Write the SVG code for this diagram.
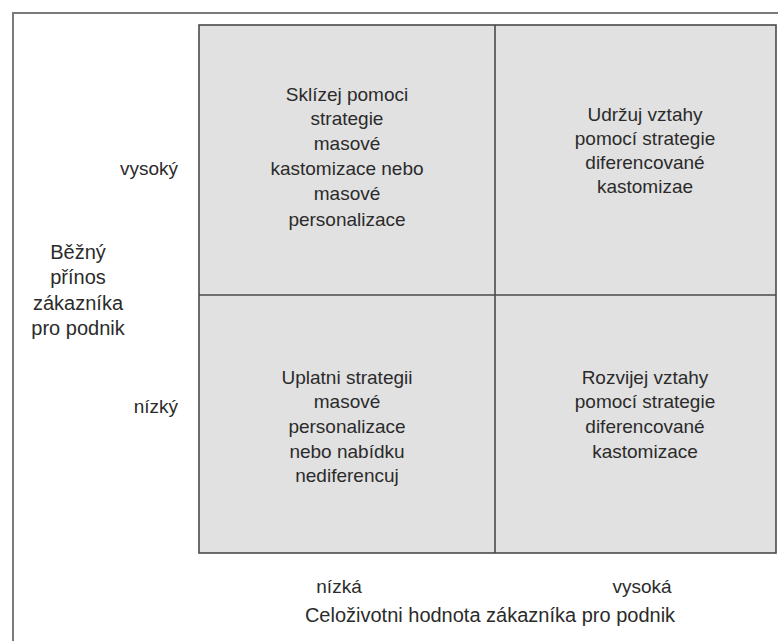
<svg xmlns="http://www.w3.org/2000/svg" width="778" height="641" viewBox="0 0 778 641">
<style>
text{font-family:"Liberation Sans",Arial,sans-serif;font-size:19px;fill:#2b2b2b}
.c{text-anchor:middle}
.e{text-anchor:end}
.big{font-size:20px}
.cell{fill:#e1e1e1;stroke:none}
.div{stroke:#4a4a4a;stroke-width:1.6;fill:none}
</style>
<rect width="778" height="641" fill="#ffffff"/>
<path d="M13,641 V13 H778" fill="none" stroke="#7a7a7a" stroke-width="2"/>
<g id="quadrant-top-left">
<rect class="cell" x="199" y="25" width="296" height="270"/>
<text class="c" x="347" y="101">Sklízej pomoci</text>
<text class="c" x="347" y="125">strategie</text>
<text class="c" x="347" y="150">masové</text>
<text class="c" x="347" y="175">kastomizace nebo</text>
<text class="c" x="347" y="200">masové</text>
<text class="c" x="347" y="226">personalizace</text>
</g>
<g id="quadrant-top-right">
<rect class="cell" x="495" y="25" width="281" height="270"/>
<text class="c" x="645" y="121">Udržuj vztahy</text>
<text class="c" x="645" y="145">pomocí strategie</text>
<text class="c" x="645" y="169">diferencované</text>
<text class="c" x="645" y="193">kastomizae</text>
</g>
<g id="quadrant-bottom-left">
<rect class="cell" x="199" y="295" width="296" height="258"/>
<text class="c" x="347" y="384">Uplatni strategii</text>
<text class="c" x="347" y="408">masové</text>
<text class="c" x="347" y="433">personalizace</text>
<text class="c" x="347" y="458">nebo nabídku</text>
<text class="c" x="347" y="482">nediferencuj</text>
</g>
<g id="quadrant-bottom-right">
<rect class="cell" x="495" y="295" width="281" height="258"/>
<text class="c" x="645" y="384">Rozvijej vztahy</text>
<text class="c" x="645" y="408">pomocí strategie</text>
<text class="c" x="645" y="433">diferencované</text>
<text class="c" x="645" y="458">kastomizace</text>
</g>
<g id="connectors">
<rect class="div" x="199" y="25" width="577" height="528" stroke-width="2"/>
<line class="div" x1="495" y1="25" x2="495" y2="553"/>
<line class="div" x1="199" y1="295" x2="776" y2="295"/>
</g>
<g id="y-axis">
<text class="c big" x="78" y="259">Běžný</text>
<text class="c big" x="78" y="284">přínos</text>
<text class="c big" x="78" y="310">zákazníka</text>
<text class="c big" x="78" y="335">pro podnik</text>
<text class="e" x="178" y="175">vysoký</text>
<text class="e" x="178" y="413">nízký</text>
</g>
<g id="x-axis">
<text class="c" x="339" y="593">nízká</text>
<text class="c" x="642" y="593">vysoká</text>
<text class="c big" x="490" y="622">Celoživotni hodnota zákazníka pro podnik</text>
</g>
</svg>
